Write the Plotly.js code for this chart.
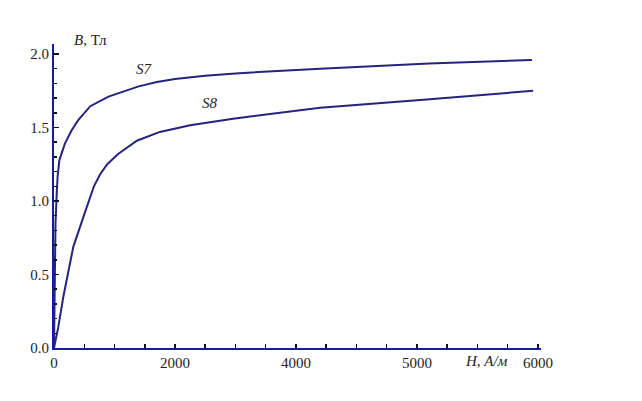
<!DOCTYPE html>
<html>
<head>
<meta charset="utf-8">
<script src="https://cdn.plot.ly/plotly-3.0.1.min.js"></script>
<style>
  html, body { margin: 0; padding: 0; background: #fff; }
  #chart { width: 642px; height: 401px; }
</style>
</head>
<body>
<div id="chart"></div>
<script>
// x values are in axis position units (the picture's tick labels are not linear past 4000)
const h_s7 = [0, 10, 25, 45, 60, 90, 130, 180, 290, 400, 600, 900, 1400, 1700, 2000, 2500, 3000, 4400, 6200, 7900];
const b_s7 = [0, 0.45, 0.85, 1.05, 1.17, 1.28, 1.33, 1.39, 1.48, 1.55, 1.645, 1.71, 1.78, 1.81, 1.83, 1.852, 1.868, 1.90, 1.935, 1.96];

const h_s8 = [0, 70, 155, 265, 320, 485, 570, 660, 760, 880, 1060, 1370, 1750, 2250, 2960, 4400, 6160, 7920];
const b_s8 = [0, 0.14, 0.35, 0.575, 0.69, 0.89, 1.0, 1.1, 1.18, 1.25, 1.32, 1.41, 1.47, 1.515, 1.56, 1.635, 1.69, 1.75];

const x_tickvals = [0, 2000, 4000, 6000, 8000];
const x_ticktext = ["0", "2000", "4000", "5000", "6000"];
const y_tickvals = [0, 0.5, 1.0, 1.5, 2.0];
const y_ticktext = ["0.0", "0.5", "1.0", "1.5", "2.0"];

const lineColor = "#24247e";
const axisColor = "#1818a8";
const serif = "'Times New Roman', 'Liberation Serif', serif";

const data = [
    { x: h_s7, y: b_s7, mode: "lines", type: "scatter", name: "S7",
      line: { color: lineColor, width: 2 } },
    { x: h_s8, y: b_s8, mode: "lines", type: "scatter", name: "S8",
      line: { color: lineColor, width: 2 } }
];

const tickFont = { family: serif, size: 15, color: "#222" };

const layout = {
    width: 642,
    height: 401,
    margin: { l: 54, r: 101, t: 44, b: 53 },
    paper_bgcolor: "#fff",
    plot_bgcolor: "#fff",
    showlegend: false,
    font: tickFont,
    xaxis: {
        range: [0, 8050],
        tickmode: "array",
        tickvals: x_tickvals,
        ticktext: x_ticktext,
        ticks: "inside",
        ticklen: 4,
        tickwidth: 1.5,
        tickcolor: "#111",
        showgrid: false,
        zeroline: false,
        showline: true,
        linecolor: axisColor,
        linewidth: 2,
        minor: { dtick: 500, tick0: 0, ticks: "inside", ticklen: 4, tickcolor: "#111", tickwidth: 1.5, showgrid: false },
        tickfont: tickFont
    },
    yaxis: {
        range: [0, 2.068],
        tickmode: "array",
        tickvals: y_tickvals,
        ticktext: y_ticktext,
        ticks: "inside",
        ticklen: 5,
        tickwidth: 1.5,
        tickcolor: "#111",
        showgrid: false,
        zeroline: false,
        showline: true,
        linecolor: axisColor,
        linewidth: 2,
        minor: { dtick: 0.1, tick0: 0, ticks: "inside", ticklen: 3, tickcolor: "#111", tickwidth: 1.5, showgrid: false },
        tickfont: tickFont
    },
    annotations: [
        { x: 0.074, y: 1.013, xref: "paper", yref: "paper", xanchor: "center", yanchor: "middle",
          text: "<i>B</i>, Тл", showarrow: false, font: tickFont },
        { x: 1504, y: 1.898, xref: "x", yref: "y", xanchor: "center", yanchor: "middle",
          text: "<i>S7</i>", showarrow: false, font: tickFont },
        { x: 2579, y: 1.666, xref: "x", yref: "y", xanchor: "center", yanchor: "middle",
          text: "<i>S8</i>", showarrow: false, font: tickFont },
        { x: 0.889, y: -0.043, xref: "paper", yref: "paper", xanchor: "center", yanchor: "middle",
          text: "<i>H, А/м</i>", showarrow: false, font: tickFont }
    ]
};

Plotly.newPlot("chart", data, layout, { staticPlot: true });
</script>
</body>
</html>
